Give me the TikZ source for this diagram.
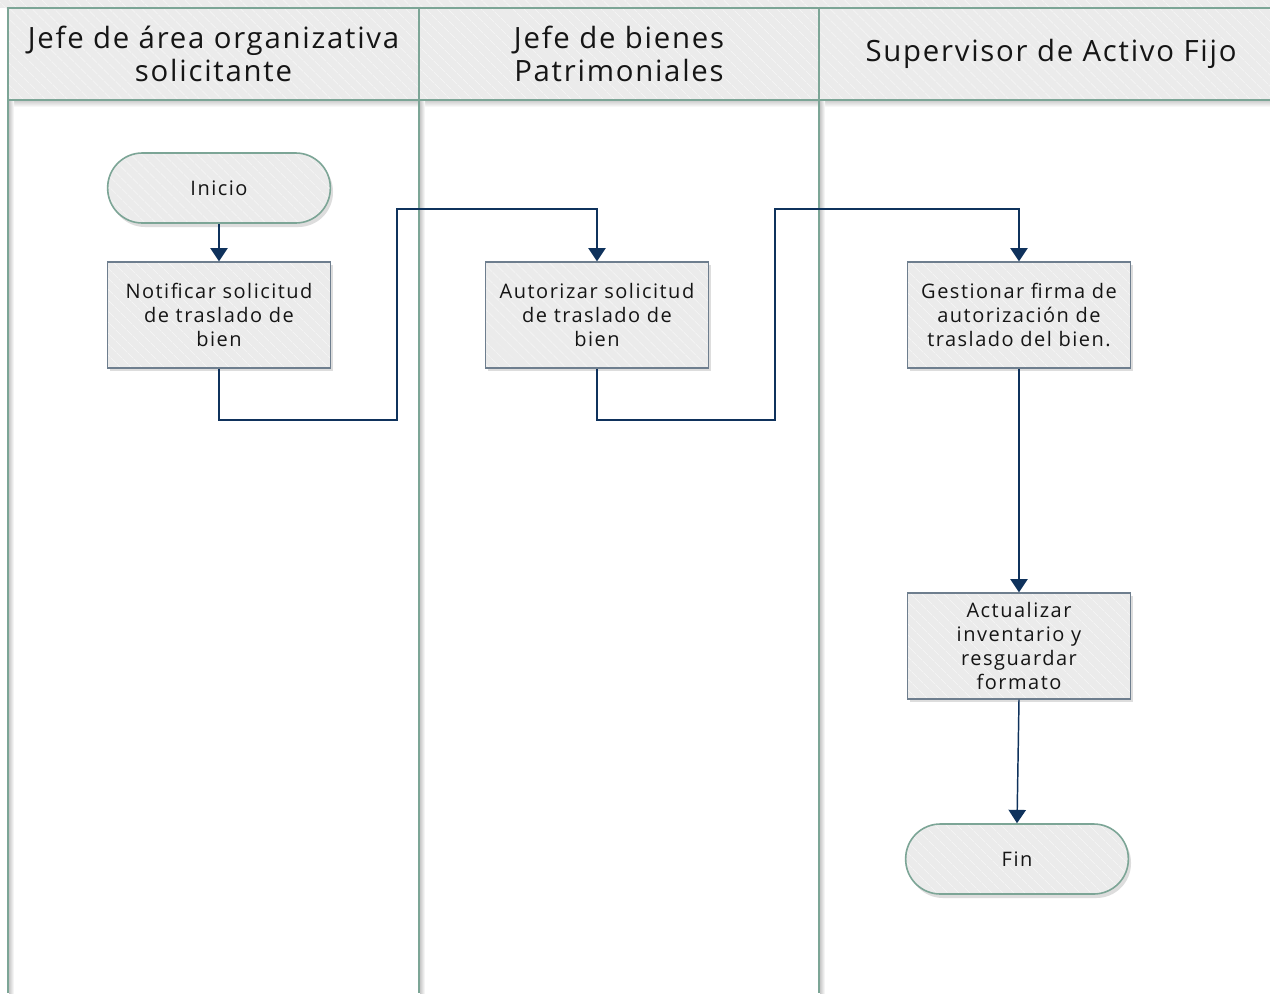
\documentclass[tikz,border=0pt]{standalone}
\usepackage{fontspec}
\setmainfont{Open Sans}
\newfontfamily\headfont[LetterSpace=6]{Open Sans}
\newfontfamily\boxfont[LetterSpace=7.5]{Open Sans}
\usetikzlibrary{arrows.meta,shadows,patterns.meta}

\definecolor{cellfill}{HTML}{EBEBEB}
\definecolor{laneline}{HTML}{7CA596}
\definecolor{boxline}{HTML}{6E7E8E}
\definecolor{flow}{HTML}{0F325C}
\definecolor{stripe}{HTML}{F4F4F4}
\definecolor{ink}{HTML}{151515}
\definecolor{softshade}{HTML}{C8C8C8}

\tikzset{
  hatchfill/.style={preaction={fill=cellfill},
    preaction={pattern={Lines[angle=-45,distance=6.5pt,line width=0.6pt]},pattern color=stripe}},
  lanehead/.style={hatchfill, draw=laneline, line width=1.5pt,
    inner sep=0pt, minimum height=69pt, align=center, text=ink,
    font=\headfont\fontsize{22}{24.75}\selectfont},
  task/.style={drop shadow={shadow xshift=2pt, shadow yshift=-2.5pt, opacity=0.22, fill=black!60},
    hatchfill, draw=boxline, line width=1pt,
    minimum width=167pt, minimum height=79.5pt, inner sep=2pt, align=center,
    text width=163pt, text=ink, font=\boxfont\fontsize{15}{18}\selectfont},
  terminal/.style={drop shadow={shadow xshift=2pt, shadow yshift=-3pt, opacity=0.22, fill=black!60},
    hatchfill, draw=laneline, line width=1.2pt, rounded corners=26pt,
    minimum width=167pt, minimum height=52.5pt, inner sep=0pt, text=ink,
    font=\boxfont\fontsize{15}{18}\selectfont},
  flowline/.style={draw=flow, line width=1.1pt, -{Triangle[width=13pt,length=10pt]}},
  laneedge/.style={laneline, line width=1.5pt},
}

\begin{document}
\begin{tikzpicture}[x=0.75pt,y=-0.75pt]
  \useasboundingbox (0,0) rectangle (1270,993);
  \clip (0,0) rectangle (1270,993);

  % pool title strip and lane bodies
  \fill[white] (0,0) rectangle (1270,993);
  \path[hatchfill] (0,0) rectangle (1270,8);

  % soft shade under the header row and beside the lane edges
  \shade[top color=softshade, bottom color=white] (8,100) rectangle (1270,107);
  \shade[left color=softshade, right color=white] (9,100) rectangle (14,993);
  \shade[left color=softshade, right color=white] (420,100) rectangle (425,993);
  \shade[left color=softshade, right color=white] (820,100) rectangle (825,993);

  % lane headers
  \node[lanehead, minimum width=308.25pt] (h1) at (213.5,54) {Jefe de área organizativa\\solicitante};
  \node[lanehead, minimum width=300pt] (h2) at (619,54) {Jefe de bienes\\Patrimoniales};
  \node[lanehead, minimum width=348pt] (h3) at (1051,54) {Supervisor de Activo Fijo};

  % lane separators
  \coordinate (l0t) at (8,8);     \coordinate (l0b) at (8,993);
  \coordinate (l1t) at (419,8);   \coordinate (l1b) at (419,993);
  \coordinate (l2t) at (819,8);   \coordinate (l2b) at (819,993);
  \draw[laneedge] (l0t) -- (l0b);
  \draw[laneedge] (l1t) -- (l1b);
  \draw[laneedge] (l2t) -- (l2b);

  % flow nodes
  \node[terminal] (inicio) at (219,188) {Inicio};
  \node[task] (notif) at (219,315) {Notificar solicitud\\de traslado de\\bien};
  \node[task] (autor) at (597,315) {Autorizar solicitud\\de traslado de\\bien};
  \node[task] (gest) at (1019,315) {Gestionar firma de\\autorización de\\traslado del bien.};
  \node[task] (act) at (1019,646) {Actualizar\\inventario y\\resguardar\\formato};
  \node[terminal] (fin) at (1017,859) {Fin};

  % routing points of the cross-lane connectors
  \coordinate (a1) at (397,420);
  \coordinate (a2) at (397,209);
  \coordinate (b1) at (775,420);
  \coordinate (b2) at (775,209);

  % connectors
  \draw[flowline] (inicio) -- (notif);
  \draw[flowline] (notif.south) |- (a1) -- (a2) -| (autor.north);
  \draw[flowline] (autor.south) |- (b1) -- (b2) -| (gest.north);
  \draw[flowline] (gest) -- (act);
  \draw[flowline] (act.south) -- (fin.north);
\end{tikzpicture}
\end{document}
